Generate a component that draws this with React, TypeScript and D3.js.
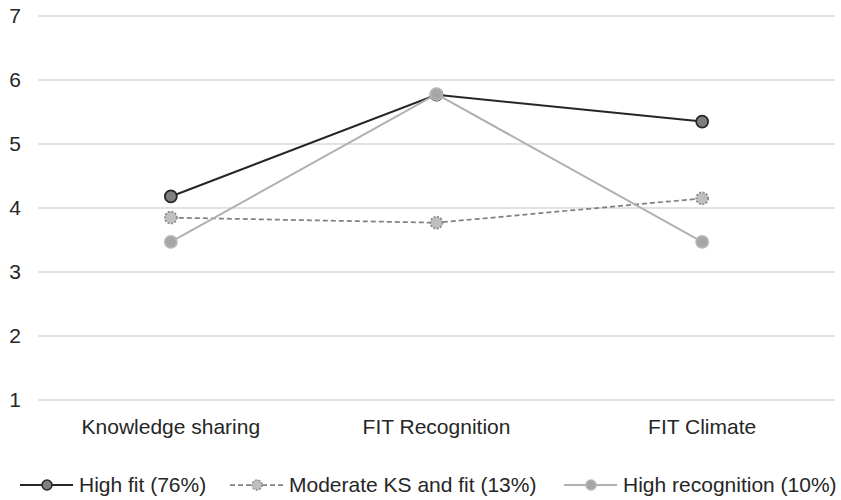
import * as d3 from 'd3';

const CATEGORIES = ['Knowledge sharing', 'FIT Recognition', 'FIT Climate'];
const Y_TICKS = [1, 2, 3, 4, 5, 6, 7];

const HIGH_FIT = [4.18, 5.77, 5.35];
const MODERATE_KS_FIT = [3.85, 3.77, 4.15];
const HIGH_RECOGNITION = [3.47, 5.78, 3.47];

const SERIES_NAMES = ['High fit (76%)', 'Moderate KS and fit (13%)', 'High recognition (10%)'];

const WIDTH = 841;
const HEIGHT = 500;
const PLOT = { left: 38, right: 835, top: 16, bottom: 400 };
const FONT = '"Liberation Sans", Arial, sans-serif';
const TEXT_COLOR = '#262626';

type Style = {
  line: string;
  lineWidth: number;
  dash?: string;
  fill: string;
  stroke: string;
  markerDash?: string;
};

const STYLES: Style[] = [
  { line: '#262626', lineWidth: 2, fill: '#7f7f7f', stroke: '#262626' },
  { line: '#808080', lineWidth: 1.75, dash: '5,3', fill: '#bfbfbf', stroke: '#8c8c8c', markerDash: '2,1.5' },
  { line: '#b0b0b0', lineWidth: 2, fill: '#a6a6a6', stroke: '#b5b5b5' },
];

// legend line starts, picked to match the reference spacing
const LEGEND_X = [20, 230, 564];
const LEGEND_Y = 485;

export default function App() {
  const x = d3.scaleBand<string>().domain(CATEGORIES).range([PLOT.left, PLOT.right]);
  const y = d3.scaleLinear().domain([1, 7]).range([PLOT.bottom, PLOT.top]);
  const cx = (c: string) => (x(c) ?? 0) + x.bandwidth() / 2;

  const series = [HIGH_FIT, MODERATE_KS_FIT, HIGH_RECOGNITION];
  const line = d3
    .line<number>()
    .x((_, i) => cx(CATEGORIES[i]))
    .y((v) => y(v));

  return (
    <svg
      width={WIDTH}
      height={HEIGHT}
      style={{ position: 'absolute', left: 0, top: 0, background: '#fff' }}
      fontFamily={FONT}
    >
      {Y_TICKS.map((t) => (
        <g key={t}>
          <line x1={PLOT.left} x2={PLOT.right} y1={y(t)} y2={y(t)} stroke="#d9d9d9" strokeWidth={1.5} />
          <text x={21} y={y(t)} dy="0.35em" textAnchor="end" fontSize={21} fill={TEXT_COLOR}>
            {t}
          </text>
        </g>
      ))}
      {CATEGORIES.map((c) => (
        <text key={c} x={cx(c)} y={434} textAnchor="middle" fontSize={21} fill={TEXT_COLOR}>
          {c}
        </text>
      ))}
      {series.map((values, si) => {
        const s = STYLES[si];
        return (
          <g key={si}>
            <path d={line(values) ?? ''} fill="none" stroke={s.line} strokeWidth={s.lineWidth} strokeDasharray={s.dash} />
            {values.map((v, i) => (
              <circle
                key={i}
                cx={cx(CATEGORIES[i])}
                cy={y(v)}
                r={6}
                fill={s.fill}
                stroke={s.stroke}
                strokeWidth={1.75}
                strokeDasharray={s.markerDash}
              />
            ))}
          </g>
        );
      })}
      {SERIES_NAMES.map((name, si) => {
        const s = STYLES[si];
        const x0 = LEGEND_X[si];
        return (
          <g key={name} transform={`translate(${x0},${LEGEND_Y})`}>
            <line x1={0} x2={53} y1={0} y2={0} stroke={s.line} strokeWidth={s.lineWidth} strokeDasharray={s.dash} />
            <circle cx={27} cy={0} r={5} fill={s.fill} stroke={s.stroke} strokeWidth={1.5} strokeDasharray={s.markerDash} />
            <text x={59} y={0} dy="0.35em" fontSize={21} fill={TEXT_COLOR}>
              {name}
            </text>
          </g>
        );
      })}
    </svg>
  );
}
